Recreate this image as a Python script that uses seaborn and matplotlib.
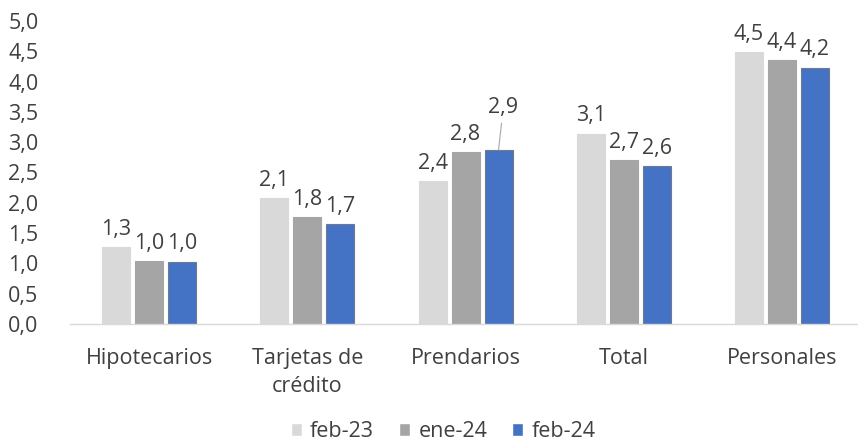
import numpy as np
import pandas as pd
import matplotlib
matplotlib.use("Agg")
import matplotlib.pyplot as plt
import seaborn as sns
from matplotlib.ticker import FixedLocator, FuncFormatter

categories = ["Hipotecarios", "Tarjetas de\ncrédito", "Prendarios", "Total", "Personales"]
series_names = ["feb-23", "ene-24", "feb-24"]
feb23 = [1.3, 2.1, 2.4, 3.1, 4.5]
ene24 = [1.0, 1.8, 2.8, 2.7, 4.4]
feb24 = [1.0, 1.7, 2.9, 2.6, 4.2]
# heights (rounded labels shown)
feb23_h = [1.27, 2.07, 2.36, 3.14, 4.48]
ene24_h = [1.04, 1.76, 2.83, 2.70, 4.35]
feb24_h = [1.03, 1.65, 2.87, 2.60, 4.23]
yticks = [0.0, 0.5, 1.0, 1.5, 2.0, 2.5, 3.0, 3.5, 4.0, 4.5, 5.0]

colors = ["#d9d9d9", "#a5a5a5", "#4472c4"]
edges = ["#d9d9d9", "#a5a5a5", "#6f7a8f"]

rows = []
for name, vals, lbls in zip(series_names, [feb23_h, ene24_h, feb24_h], [feb23, ene24, feb24]):
    for c, v, l in zip(categories, vals, lbls):
        rows.append({"cat": c, "serie": name, "val": v, "lbl": l})
df = pd.DataFrame(rows)

sns.set_theme(style="white")
plt.rcParams["font.family"] = ["Open Sans", "DejaVu Sans"]
txt = "#404040"
fs = 15.5

fig = plt.figure(figsize=(8.58, 4.45), dpi=100)
ax = fig.add_axes([0.0816, 0.272, 0.922, 0.681])
sns.barplot(data=df, x="cat", y="val", hue="serie", order=categories,
            hue_order=series_names, palette=colors, width=0.625, gap=0.15,
            ax=ax, legend=True, saturation=1)

for i, cont in enumerate(ax.containers):
    for j, bar in enumerate(cont):
        bar.set_edgecolor(edges[i])
        bar.set_linewidth(0.8)
        lbl = [feb23, ene24, feb24][i][j]
        s = f"{lbl:.1f}".replace(".", ",")
        x = bar.get_x() + bar.get_width() / 2
        h = bar.get_height()
        if i == 2 and j == 2:
            ax.annotate(s, xy=(x, h), xytext=(x + 0.03, h + 0.52), ha="center", va="bottom",
                        fontsize=fs, color=txt,
                        arrowprops=dict(arrowstyle="-", color="#a6a6a6", lw=0.8, shrinkA=1, shrinkB=0))
        else:
            ax.text(x, h + 0.12, s, ha="center", va="bottom", fontsize=fs, color=txt)

ax.set_ylim(0, 5)
ax.set_xlim(-0.5, 4.5)
ax.set_yticks(yticks)
ax.yaxis.set_major_formatter(FuncFormatter(lambda v, p: f"{v:.1f}".replace(".", ",")))
ax.set_xlabel("")
ax.set_ylabel("")
for sp in ["left", "right", "top"]:
    ax.spines[sp].set_visible(False)
ax.spines["bottom"].set_color("#d9d9d9")
ax.spines["bottom"].set_linewidth(1)
ax.tick_params(axis="y", length=0, labelsize=fs, labelcolor=txt, pad=44.5)
for t in ax.get_yticklabels():
    t.set_ha("left")
ax.tick_params(axis="x", which="major", length=0, labelsize=fs, labelcolor=txt, pad=17.5)
ax.xaxis.set_minor_locator(FixedLocator([-0.5, 0.5, 1.5, 2.5, 3.5, 4.5]))
ax.tick_params(axis="x", which="minor", length=7, color="#d9d9d9", width=1, direction="out")
for t in ax.get_xticklabels():
    t.set_linespacing(1.45)

handles, labels = ax.get_legend_handles_labels()
ax.get_legend().remove()
fig.legend(handles, labels, loc="center", bbox_to_anchor=(443 / 858, 0.03), ncol=3,
           frameon=False, fontsize=fs, handlelength=0.5, handleheight=0.5, handletextpad=0.4,
           columnspacing=1.15, labelcolor=txt, borderpad=0, borderaxespad=0)

fig.savefig("out.png", dpi=100)
